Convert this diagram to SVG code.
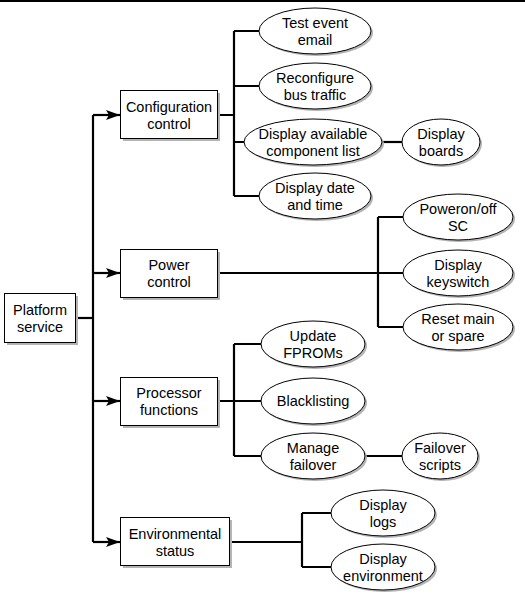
<svg xmlns="http://www.w3.org/2000/svg" width="525" height="600" viewBox="0 0 525 600">
<style>
text{font-family:"Liberation Sans",Arial,Helvetica,sans-serif;font-size:14.5px;fill:#000;text-anchor:middle}
.box{fill:#fff;stroke:#000;stroke-width:1}
.bsh{fill:#b4b4b4}
.ell{fill:#fff;stroke:#000;stroke-width:1}
.esh{fill:#b4b4b4}
.con{fill:none;stroke:#000;stroke-width:2.2}
</style>
<defs>
<marker id="arr" markerUnits="userSpaceOnUse" markerWidth="16" markerHeight="12" refX="14" refY="5" orient="auto">
<path d="M0,0 L14,5 L0,10 L3,5 z" fill="#000"/>
</marker>
</defs>
<rect width="525" height="600" fill="#fff"/>
<line x1="0" y1="1" x2="525" y2="1" stroke="#000" stroke-width="2"/>

<g id="connectors">
<path class="con" d="M75,318 H93"/>
<path class="con" d="M93,115 V542"/>
<path class="con" d="M93,115 H120" marker-end="url(#arr)"/>
<path class="con" d="M93,273 H120" marker-end="url(#arr)"/>
<path class="con" d="M93,401 H120" marker-end="url(#arr)"/>
<path class="con" d="M93,542 H120" marker-end="url(#arr)"/>
<path class="con" d="M217,115 H234 M234,31 V196 M234,31 H259 M234,86 H259 M234,142 H244 M234,196 H259"/>
<path class="con" d="M382,142 H402"/>
<path class="con" d="M217,273 H403 M378,217 V327 M378,217 H403 M378,327 H403"/>
<path class="con" d="M217,401 H261 M234,344 V456 M234,344 H261 M234,456 H261"/>
<path class="con" d="M365,456 H402"/>
<path class="con" d="M229,542 H302 M302,513 V567 M302,513 H331 M302,567 H331"/>
</g>

<g id="platform">
<rect class="bsh" x="7" y="296" width="71" height="49"/>
<rect class="box" x="4.5" y="293.5" width="71" height="49"/>
<text x="40" y="315">Platform</text>
<text x="40" y="332">service</text>
</g>
<g id="config">
<rect class="bsh" x="123" y="93" width="97" height="48"/>
<rect class="box" x="120.5" y="90.5" width="97" height="48"/>
<text x="169" y="112">Configuration</text>
<text x="169" y="129">control</text>
</g>
<g id="power">
<rect class="bsh" x="123" y="252" width="97" height="48"/>
<rect class="box" x="120.5" y="249.5" width="97" height="48"/>
<text x="169" y="270">Power</text>
<text x="169" y="287">control</text>
</g>
<g id="processor">
<rect class="bsh" x="123" y="380" width="97" height="48"/>
<rect class="box" x="120.5" y="377.5" width="97" height="48"/>
<text x="169" y="398">Processor</text>
<text x="169" y="415">functions</text>
</g>
<g id="environmental">
<rect class="bsh" x="123" y="520" width="109" height="48"/>
<rect class="box" x="120.5" y="517.5" width="109" height="48"/>
<text x="175" y="539">Environmental</text>
<text x="175" y="556">status</text>
</g>

<g id="test-event">
<ellipse class="esh" cx="317" cy="33" rx="56" ry="23"/>
<ellipse class="ell" cx="315" cy="31" rx="56" ry="23"/>
<text x="315" y="28">Test event</text>
<text x="315" y="45">email</text>
</g>
<g id="reconfigure">
<ellipse class="esh" cx="317" cy="88" rx="56" ry="23"/>
<ellipse class="ell" cx="315" cy="86" rx="56" ry="23"/>
<text x="315" y="83">Reconfigure</text>
<text x="315" y="100">bus traffic</text>
</g>
<g id="display-available">
<ellipse class="esh" cx="315" cy="144" rx="69" ry="23"/>
<ellipse class="ell" cx="313" cy="142" rx="69" ry="23"/>
<text x="313" y="139">Display available</text>
<text x="313" y="156">component list</text>
</g>
<g id="display-date">
<ellipse class="esh" cx="317" cy="198" rx="56" ry="23"/>
<ellipse class="ell" cx="315" cy="196" rx="56" ry="23"/>
<text x="315" y="193">Display date</text>
<text x="315" y="210">and time</text>
</g>
<g id="display-boards">
<ellipse class="esh" cx="443" cy="144" rx="39" ry="23"/>
<ellipse class="ell" cx="441" cy="142" rx="39" ry="23"/>
<text x="441" y="139">Display</text>
<text x="441" y="156">boards</text>
</g>
<g id="poweron">
<ellipse class="esh" cx="460" cy="219" rx="55" ry="23"/>
<ellipse class="ell" cx="458" cy="217" rx="55" ry="23"/>
<text x="458" y="214">Poweron/off</text>
<text x="458" y="231">SC</text>
</g>
<g id="keyswitch">
<ellipse class="esh" cx="460" cy="275" rx="55" ry="23"/>
<ellipse class="ell" cx="458" cy="273" rx="55" ry="23"/>
<text x="458" y="270">Display</text>
<text x="458" y="287">keyswitch</text>
</g>
<g id="reset">
<ellipse class="esh" cx="460" cy="329" rx="55" ry="23"/>
<ellipse class="ell" cx="458" cy="327" rx="55" ry="23"/>
<text x="458" y="324">Reset main</text>
<text x="458" y="341">or spare</text>
</g>
<g id="fproms">
<ellipse class="esh" cx="315" cy="346" rx="52" ry="23"/>
<ellipse class="ell" cx="313" cy="344" rx="52" ry="23"/>
<text x="313" y="341">Update</text>
<text x="313" y="358">FPROMs</text>
</g>
<g id="blacklisting">
<ellipse class="esh" cx="315" cy="403" rx="52" ry="23"/>
<ellipse class="ell" cx="313" cy="401" rx="52" ry="23"/>
<text x="313" y="406">Blacklisting</text>
</g>
<g id="failover">
<ellipse class="esh" cx="315" cy="458" rx="52" ry="23"/>
<ellipse class="ell" cx="313" cy="456" rx="52" ry="23"/>
<text x="313" y="453">Manage</text>
<text x="313" y="470">failover</text>
</g>
<g id="failover-scripts">
<ellipse class="esh" cx="442" cy="458" rx="38" ry="23"/>
<ellipse class="ell" cx="440" cy="456" rx="38" ry="23"/>
<text x="440" y="453">Failover</text>
<text x="440" y="470">scripts</text>
</g>
<g id="logs">
<ellipse class="esh" cx="385" cy="515" rx="52" ry="23"/>
<ellipse class="ell" cx="383" cy="513" rx="52" ry="23"/>
<text x="383" y="510">Display</text>
<text x="383" y="527">logs</text>
</g>
<g id="environment">
<ellipse class="esh" cx="385" cy="569" rx="52" ry="23"/>
<ellipse class="ell" cx="383" cy="567" rx="52" ry="23"/>
<text x="383" y="564">Display</text>
<text x="383" y="581">environment</text>
</g>
</svg>
